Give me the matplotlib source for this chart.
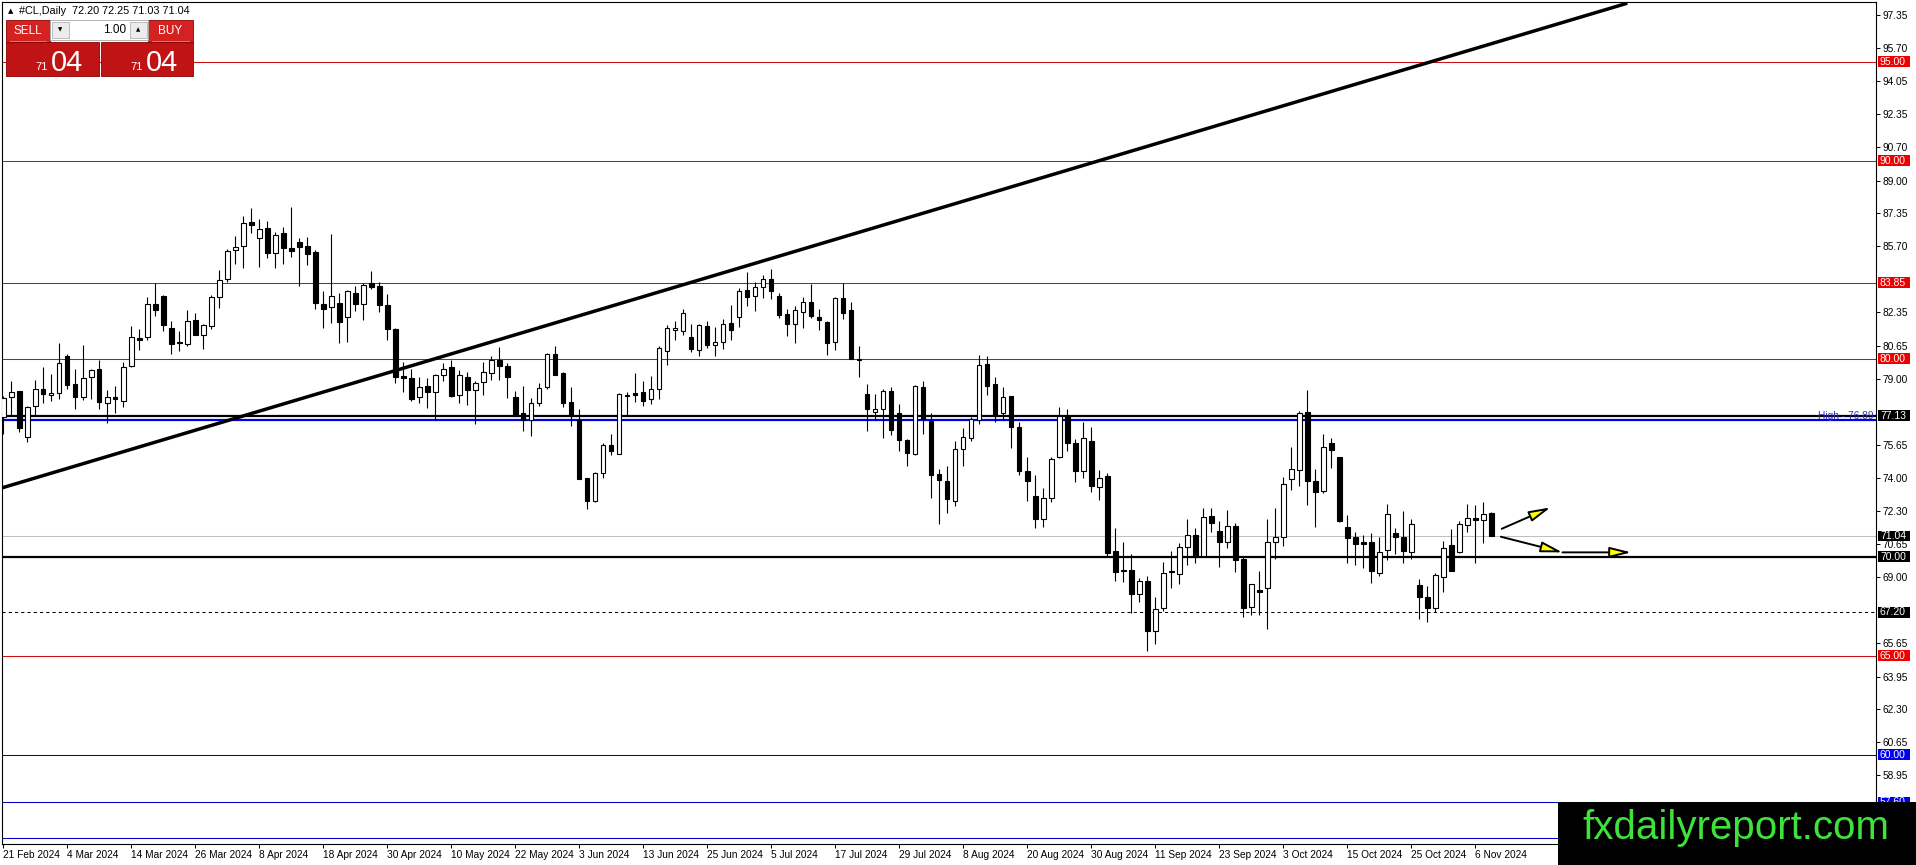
import numpy as np
import matplotlib
matplotlib.use("Agg")
import matplotlib.pyplot as plt
import matplotlib.transforms as mtransforms
from matplotlib.patches import Rectangle, FancyArrowPatch

# ===== dados (#CL, diario) =====
OPEN = [77.07, 78.05, 78.37, 76.05, 77.61, 78.47, 78.15, 78.25, 80.15, 78.73,
        78.08, 79.10, 79.47, 77.74, 78.05, 77.88, 79.61, 81.07, 81.10, 82.75,
        83.15, 81.53, 80.85, 80.73, 81.98, 81.20, 81.64, 83.14, 84.02, 85.50,
        85.68, 86.89, 86.09, 86.60, 85.33, 86.36, 85.58, 85.92, 85.68, 85.41,
        82.78, 82.63, 82.83, 82.12, 83.34, 82.78, 83.82, 83.70, 82.73, 81.48,
        79.14, 79.02, 78.08, 78.64, 78.30, 79.19, 79.58, 78.17, 79.10, 78.42,
        78.81, 79.27, 79.95, 79.64, 78.08, 77.24, 76.90, 77.74, 78.59, 80.24,
        79.27, 77.81, 76.93, 73.98, 72.79, 74.22, 75.62, 75.17, 78.12, 78.25,
        78.30, 77.95, 78.46, 80.37, 81.44, 81.42, 81.10, 80.46, 81.66, 80.68,
        80.83, 81.81, 82.12, 83.46, 83.17, 83.60, 84.05, 83.17, 82.24, 81.76,
        82.37, 82.87, 82.12, 81.85, 80.83, 83.09, 82.44, 80.00, 78.23, 77.31,
        77.44, 78.35, 77.27, 75.92, 75.17, 78.59, 76.85, 74.19, 73.82, 72.81,
        75.45, 76.01, 76.90, 79.76, 78.75, 77.24, 78.11, 76.57, 74.33, 73.06,
        71.89, 72.95, 75.05, 77.10, 75.72, 74.34, 75.84, 73.50, 74.07, 70.29,
        69.31, 69.31, 68.10, 68.77, 66.26, 67.39, 69.28, 69.12, 70.47, 71.09,
        70.05, 72.05, 71.30, 70.72, 71.57, 69.88, 67.44, 68.30, 68.40, 70.76,
        70.98, 73.91, 74.38, 77.29, 73.82, 73.33, 75.76, 75.02, 71.52, 71.01,
        70.74, 70.72, 69.19, 70.34, 71.18, 70.98, 70.25, 68.57, 67.95, 67.42,
        68.96, 70.59, 70.25, 71.60, 71.97, 71.85, 72.20]
HIGH = [78.10, 78.88, 78.37, 77.60, 78.93, 79.59, 79.25, 80.81, 80.22, 79.49,
        80.68, 79.49, 79.95, 78.42, 78.64, 79.86, 81.65, 81.51, 83.12, 83.82,
        83.21, 81.90, 81.42, 82.44, 82.32, 81.75, 83.21, 84.48, 85.53, 86.21,
        87.19, 87.62, 87.04, 86.97, 86.39, 86.67, 87.67, 86.09, 86.17, 85.50,
        83.43, 86.31, 83.34, 83.48, 83.68, 83.82, 84.43, 83.88, 83.29, 81.56,
        79.86, 79.49, 79.07, 79.02, 79.22, 79.78, 79.95, 79.44, 79.31, 78.86,
        79.83, 80.12, 80.59, 79.78, 78.37, 78.63, 78.00, 78.76, 80.29, 80.63,
        79.32, 78.59, 77.46, 73.98, 74.27, 75.74, 76.18, 78.25, 78.30, 79.30,
        78.88, 79.14, 80.63, 81.68, 81.93, 82.49, 81.78, 81.78, 81.90, 81.61,
        82.02, 82.70, 83.58, 84.36, 83.88, 84.22, 84.53, 83.34, 82.49, 82.66,
        83.14, 83.77, 82.53, 81.93, 83.14, 83.82, 82.87, 80.66, 78.70, 78.20,
        78.45, 78.59, 77.69, 75.96, 78.65, 78.86, 77.27, 74.44, 74.58, 75.84,
        76.52, 77.07, 80.19, 80.13, 79.09, 78.59, 78.11, 76.82, 75.02, 74.12,
        73.48, 75.05, 77.58, 77.44, 75.94, 76.82, 76.57, 74.38, 74.24, 71.43,
        70.76, 70.12, 68.91, 69.02, 67.95, 69.75, 70.29, 70.67, 71.90, 71.43,
        72.47, 72.44, 71.80, 72.36, 71.68, 70.00, 68.60, 69.28, 71.89, 72.47,
        74.04, 75.56, 77.36, 78.42, 74.41, 76.20, 75.98, 75.02, 72.10, 71.23,
        71.09, 71.18, 70.98, 72.66, 71.43, 72.31, 71.89, 68.86, 68.52, 69.16,
        70.77, 71.40, 71.80, 72.64, 72.61, 72.78, 72.25]
LOW = [76.20, 77.10, 76.30, 75.79, 77.10, 77.74, 77.88, 77.98, 78.49, 77.47,
       77.94, 77.98, 77.47, 76.73, 77.27, 77.54, 79.58, 80.42, 80.97, 82.15,
       81.39, 80.25, 80.37, 80.66, 81.19, 80.51, 81.51, 82.56, 83.88, 84.80,
       84.60, 86.34, 84.65, 85.07, 84.56, 84.80, 85.12, 83.65, 84.72, 82.53,
       81.56, 81.81, 80.80, 80.85, 82.41, 81.95, 83.51, 82.37, 80.97, 78.76,
       78.34, 77.88, 77.74, 77.49, 76.90, 78.90, 78.08, 77.74, 77.66, 76.68,
       78.17, 78.93, 78.93, 78.03, 77.10, 76.35, 76.10, 77.61, 78.46, 79.19,
       77.58, 76.61, 73.93, 72.40, 72.74, 73.96, 75.15, 75.17, 77.15, 77.83,
       77.63, 77.69, 77.95, 79.69, 80.97, 81.22, 80.32, 80.15, 80.53, 80.12,
       80.49, 80.93, 81.61, 82.66, 82.41, 83.09, 83.00, 82.07, 81.17, 80.80,
       81.56, 82.07, 81.44, 80.17, 80.42, 82.02, 80.00, 79.10, 76.35, 76.90,
       75.99, 76.13, 75.34, 74.58, 75.12, 76.18, 72.98, 71.63, 72.22, 72.56,
       74.58, 75.84, 76.68, 78.15, 76.80, 76.90, 75.47, 74.12, 72.79, 71.43,
       71.52, 72.78, 75.00, 75.35, 73.79, 73.99, 73.28, 72.86, 70.00, 68.79,
       68.74, 67.14, 67.73, 65.25, 65.59, 67.27, 68.43, 68.62, 69.58, 69.66,
       70.00, 71.26, 69.46, 70.42, 69.21, 66.94, 67.05, 67.05, 66.33, 69.87,
       70.54, 73.37, 73.57, 72.61, 71.52, 73.23, 74.46, 71.77, 69.66, 69.58,
       69.41, 68.65, 69.04, 69.83, 70.12, 69.70, 69.88, 66.85, 66.68, 67.22,
       68.23, 69.29, 70.20, 71.26, 69.70, 70.67, 71.03]
CLOSE = [78.00, 78.32, 76.52, 77.54, 78.46, 78.24, 78.27, 79.78, 78.69, 78.08,
         79.05, 79.42, 77.80, 78.05, 77.98, 79.58, 81.10, 80.93, 82.78, 82.46,
         81.70, 80.73, 80.80, 81.92, 81.22, 81.71, 83.12, 83.97, 85.44, 85.63,
         86.85, 86.77, 86.53, 85.33, 86.24, 85.58, 85.43, 85.63, 85.27, 82.83,
         82.53, 83.17, 81.85, 83.41, 82.78, 83.75, 83.63, 82.73, 81.51, 79.07,
         79.02, 77.95, 78.59, 78.30, 79.17, 79.49, 78.14, 79.19, 78.42, 78.80,
         79.31, 79.95, 79.61, 79.07, 77.12, 76.90, 77.74, 78.52, 80.24, 79.19,
         77.78, 77.12, 73.93, 72.79, 74.23, 75.62, 75.32, 78.22, 78.17, 78.19,
         77.88, 78.46, 80.54, 81.53, 81.56, 82.32, 80.51, 81.71, 80.71, 80.85,
         81.78, 81.44, 83.41, 83.12, 83.60, 84.05, 83.43, 82.20, 81.78, 82.46,
         82.87, 82.15, 81.95, 80.80, 83.09, 82.32, 80.00, 79.95, 77.44, 77.47,
         78.35, 76.40, 75.89, 75.25, 78.62, 76.94, 74.12, 73.87, 72.90, 75.42,
         76.06, 76.97, 79.66, 78.62, 77.14, 78.05, 76.57, 74.34, 73.84, 71.89,
         72.95, 74.93, 77.10, 75.72, 74.34, 75.98, 73.59, 73.99, 70.17, 69.21,
         69.26, 68.10, 68.77, 66.26, 67.34, 69.16, 69.21, 70.47, 71.09, 70.00,
         71.99, 71.68, 70.72, 71.55, 69.83, 67.42, 68.60, 68.23, 70.72, 70.98,
         73.65, 74.41, 77.24, 73.84, 73.28, 75.52, 75.39, 71.82, 70.96, 70.64,
         70.66, 69.29, 70.25, 72.14, 70.98, 70.30, 71.63, 67.98, 67.42, 69.07,
         70.42, 69.29, 71.65, 71.94, 71.85, 72.14, 71.04]

DATE_LABELS = ["21 Feb 2024", "4 Mar 2024", "14 Mar 2024", "26 Mar 2024",
               "8 Apr 2024", "18 Apr 2024", "30 Apr 2024", "10 May 2024",
               "22 May 2024", "3 Jun 2024", "13 Jun 2024", "25 Jun 2024",
               "5 Jul 2024", "17 Jul 2024", "29 Jul 2024", "8 Aug 2024",
               "20 Aug 2024", "30 Aug 2024", "11 Sep 2024", "23 Sep 2024",
               "3 Oct 2024", "15 Oct 2024", "25 Oct 2024", "6 Nov 2024"]
BARS_PER_LABEL = 8

# escala de precos (as que ficam escondidas pelas etiquetas foram omitidas)
PRICE_TICKS = [97.35, 95.70, 94.05, 92.35, 90.70, 89.00, 87.35, 85.70,
               82.35, 80.65, 79.00, 75.65, 74.00, 72.30, 70.65, 69.00,
               65.65, 63.95, 62.30, 60.65, 58.95]

RED_LEVELS = [95.00, 90.00, 83.85, 80.00, 65.00]
BLUE_LEVELS = [60.00, 57.60, 55.80]
BLACK_LEVEL = 77.13
HIGH_LEVEL = 76.89
SUPPORT_LEVEL = 70.00
DASHED_LEVEL = 67.20
BID = 71.04

TREND = [(-0.4, 73.45), (203.0, 97.96)]          # (barra, preco)
ARROWS = [((187.3, 71.41), (193.4, 72.49)),
          ((187.2, 71.01), (194.9, 70.22)),
          ((194.9, 70.22), (203.5, 70.22))]

HEADER = "#CL,Daily  72.20 72.25 71.03 71.04"
# ================================================

W, H = 1916, 865
FONT = "Liberation Sans"
plt.rcParams["font.family"] = [FONT, "DejaVu Sans"]

fig = plt.figure(figsize=(W / 100, H / 100), dpi=100)
fig.patch.set_facecolor("white")
ax = fig.add_axes([2 / W, (H - 844) / H, (1876 - 2) / W, (844 - 2) / H])
ax.set_xlim((2 - 3.3) / 8, (1876 - 3.3) / 8)
ax.set_ylim(55.49, 98.02)

o, h, l, c = (np.array(a) for a in (OPEN, HIGH, LOW, CLOSE))
x = np.arange(len(o))
up = c >= o

# linhas horizontais
for lv in RED_LEVELS:
    ax.axhline(lv, color="#d01010", lw=0.75, zorder=1)
for lv in BLUE_LEVELS:
    ax.axhline(lv, color="#0000c8", lw=0.75, zorder=1)
ax.axhline(BLACK_LEVEL, color="black", lw=1.6, zorder=1)
ax.axhline(HIGH_LEVEL, color="#0000e0", lw=1.6, zorder=1)
ax.axhline(SUPPORT_LEVEL, color="black", lw=1.6, zorder=1)
ax.axhline(DASHED_LEVEL, color="black", lw=0.75, ls=(0, (3, 3)), zorder=1)
ax.axhline(BID, color="#c0c0c0", lw=0.75, zorder=1)

# linha de tendencia
ax.plot([p[0] for p in TREND], [p[1] for p in TREND], color="black", lw=2.5,
        solid_capstyle="butt", zorder=2)

# candles
ax.vlines(x, l, h, color="black", lw=0.8, zorder=3)
ax.bar(x[up], np.maximum(c[up] - o[up], 0.02), bottom=o[up], width=0.55,
       facecolor="white", edgecolor="black", lw=0.8, zorder=4)
ax.bar(x[~up], np.maximum(o[~up] - c[~up], 0.02), bottom=c[~up], width=0.55,
       facecolor="black", edgecolor="black", lw=0.8, zorder=4)

# setas
for a, b in ARROWS:
    ax.add_patch(FancyArrowPatch(a, b, arrowstyle="-|>,head_length=1.3,head_width=0.32",
                                 mutation_scale=10, lw=1.4, fc="#ffff00", ec="black",
                                 shrinkA=0, shrinkB=0, zorder=6, clip_on=False))

# eixos
for s in ax.spines.values():
    s.set_color("black")
    s.set_linewidth(0.8)
ax.yaxis.tick_right()
ax.set_yticks(PRICE_TICKS)
ax.set_yticklabels([f"{t:.2f}" for t in PRICE_TICKS])
ax.tick_params(axis="y", length=3, width=0.7, pad=2, labelsize=7.3, colors="black")
ax.set_xticks(np.arange(len(DATE_LABELS)) * BARS_PER_LABEL)
ax.set_xticklabels(DATE_LABELS, ha="left")
ax.tick_params(axis="x", length=3, width=0.7, pad=1.5, labelsize=7.3)

# etiquetas coloridas no eixo de precos
trans = mtransforms.blended_transform_factory(ax.transAxes, ax.transData)
tags = [(lv, "#ee0000") for lv in RED_LEVELS]
tags += [(BLACK_LEVEL, "black"), (BID, "black"), (SUPPORT_LEVEL, "black"),
         (DASHED_LEVEL, "black")]
tags += [(lv, "#0000ee") for lv in BLUE_LEVELS[:2]]
x0 = (1878 - 2) / 1874
for lv, col in tags:
    ax.add_patch(Rectangle((x0, lv - 0.27), 32 / 1874, 0.54, transform=trans,
                           facecolor=col, edgecolor="none", clip_on=False, zorder=10))
    ax.text(x0 + 2 / 1874, lv, f"{lv:.2f}", transform=trans, color="white",
            fontsize=7.5, ha="left", va="center", clip_on=False, zorder=11)
ax.text(1 - 2 / 1874, BLACK_LEVEL, f"High - {HIGH_LEVEL:.2f}", transform=trans,
        color="#3030b8", fontsize=7.3, ha="right", va="center", zorder=7)

# sobreposicao: painel de negociacao, cabecalho e marca d'agua
ov = fig.add_axes([0, 0, 1, 1], zorder=10)
ov.set_xlim(0, W)
ov.set_ylim(H, 0)
ov.axis("off")
ov.patch.set_alpha(0)

ov.text(8, 11, "\u25b2", fontsize=5, va="center", family="DejaVu Sans")
ov.text(19, 11, HEADER, fontsize=7.8, va="center")

red_top, red_big = "#d42222", "#c01414"
ov.add_patch(Rectangle((6, 20), 44, 22, fc=red_top, ec="#8a0000", lw=0.6))
ov.add_patch(Rectangle((148, 20), 45, 22, fc=red_top, ec="#8a0000", lw=0.6))
ov.add_patch(Rectangle((6, 42), 93, 34, fc=red_big, ec="#8a0000", lw=0.6))
ov.add_patch(Rectangle((101, 42), 92, 34, fc=red_big, ec="#8a0000", lw=0.6))
ov.plot([10, 46], [41, 41], color="#f08080", lw=0.6)
ov.plot([152, 189], [41, 41], color="#f08080", lw=0.6)
ov.text(28, 31, "SELL", color="white", fontsize=8.5, ha="center", va="center")
ov.text(170, 31, "BUY", color="white", fontsize=8.5, ha="center", va="center")
ov.add_patch(Rectangle((50, 20), 98, 20, fc="white", ec="#a8a8a8", lw=0.6))
ov.add_patch(Rectangle((52, 22), 17, 16, fc="#ececec", ec="#b4b4b4", lw=0.6))
ov.add_patch(Rectangle((130, 22), 17, 16, fc="#ececec", ec="#b4b4b4", lw=0.6))
ov.text(60.5, 30, "\u25bc", fontsize=4, ha="center", va="center", family="DejaVu Sans")
ov.text(138.5, 30, "\u25b2", fontsize=4, ha="center", va="center", family="DejaVu Sans")
ov.text(126, 30, "1.00", fontsize=8.5, ha="right", va="center")
for bx in (0, 95):
    ov.text(48 + bx, 70, "71", color="white", fontsize=8, ha="right", va="baseline")
    ov.text(51 + bx, 71, "04", color="white", fontsize=21, ha="left", va="baseline")

ov.add_patch(Rectangle((1558, 802), W - 1558, H - 802, fc="black", ec="none"))
ov.text(1736, 839, "fxdailyreport.com", color="#3ee23a", fontsize=29,
        ha="center", va="baseline")

fig.savefig("out.png", dpi=100)
